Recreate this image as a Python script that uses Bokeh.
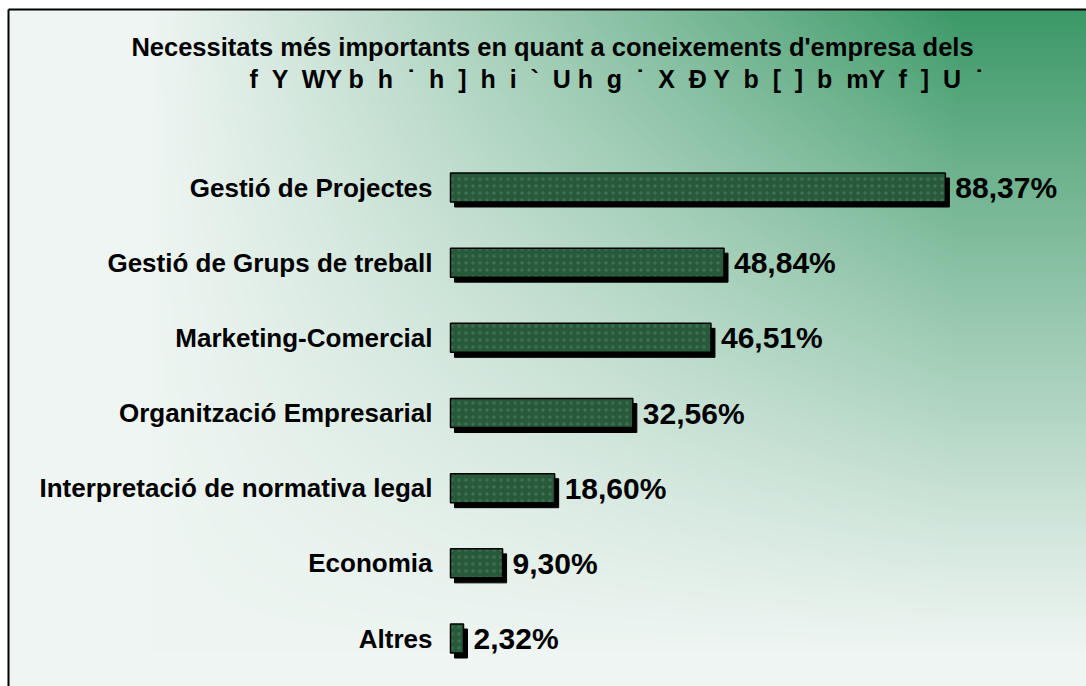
import numpy as np
from bokeh.plotting import figure
from bokeh.models import Range1d, ColumnDataSource, Label
from bokeh.core.properties import value
from bokeh.embed import file_html
from bokeh.resources import INLINE

# ---- data ----
categories = ["Gestió de Projectes", "Gestió de Grups de treball", "Marketing-Comercial",
              "Organització Empresarial", "Interpretació de normativa legal", "Economia", "Altres"]
values = [88.37, 48.84, 46.51, 32.56, 18.60, 9.30, 2.32]
value_labels = ["88,37%", "48,84%", "46,51%", "32,56%", "18,60%", "9,30%", "2,32%"]
title_line1 = "Necessitats més importants en quant a coneixements d'empresa dels"
S2 = " \u00a0"
S1 = " "
title_line2 = ("f" + S2 + "Y" + S2 + "WY" + S1 + "b" + S2 + "h" + S2 + "˙" + S2 + "h" + S2 + "]" + S2 +
               "h" + S2 + "i" + S2 + "`" + S2 + "U" + S1 + "h" + S2 + "g" + S2 + "˙" + S2 + "X" + S2 +
               "Đ" + S1 + "Y" + S2 + "b" + S2 + "[" + S2 + "]" + S2 + "b" + S2 + "mY" + S2 + "f" + S2 +
               "]" + S2 + "U" + S2 + "˙")

W, H = 1086, 686
PXX = 5.6          # pixels per percent
PXY = 75.17        # pixels per category step
x0 = -450 / PXX
x1 = x0 + W / PXX
n = len(categories)
y1 = (n - 1) + 187 / PXY
y0 = y1 - H / PXY

ypos = [n - 1 - i for i in range(n)]

p = figure(width=W, height=H, output_backend="svg", toolbar_location=None,
           x_range=Range1d(x0, x1), y_range=Range1d(y0, y1), min_border=0)
p.axis.visible = False
p.grid.visible = False
p.outline_line_color = None
p.background_fill_color = "white"
p.border_fill_color = "white"

# ---- background gradient (frame starts at page x=8, y=9) ----
xb = x0 + 8 / PXX
yb = y1 - 9 / PXY
fw, fh = W - 8, H - 9
gw, gh = fw // 2, fh // 2
xs = (np.arange(gw) + 0.5) * (fw / gw) + 8
ys = (np.arange(gh) + 0.5) * (fh / gh) + 9
X, Y = np.meshgrid(xs, ys)
th = np.clip((X - 150) / (960 - 150), 0, 1)
tv = np.clip(1 - (Y - 10) / 640, 0, 1)
g = (th ** 1.05) * (tv ** 1.1)
pale = np.array([238, 245, 242])
green = np.array([60, 153, 104])
col = pale[None, None, :] + (green - pale)[None, None, :] * g[..., None]
col = np.flipud(col).astype(np.uint32)
img = (np.uint32(255) << 24) | (col[..., 2] << 16) | (col[..., 1] << 8) | col[..., 0]
p.image_rgba(image=[img.astype(np.uint32)], x=xb, y=y0, dw=x1 - xb, dh=yb - y0)

# ---- border (top and left) ----
p.segment(x0=[xb, xb], y0=[y0, yb], x1=[xb, x1], y1=[yb, yb], line_color="black", line_width=2)

# ---- bars ----
dx = 4 / PXX
dy = 5 / PXY
bh = 29 / PXY
src = ColumnDataSource(dict(
    y=ypos, cat=categories, val=values, lab=value_labels,
    sy=[v - dy for v in ypos],
    sl=[dx] * n, sr=[v + dx for v in values],
))
p.hbar(y="sy", left="sl", right="sr", height=bh, source=src,
       fill_color="black", line_color="black")
p.hbar(y="y", left=0, right="val", height=bh, source=src,
       fill_color="#275a3b", line_color="black", line_width=1.5,
       hatch_pattern="dot", hatch_color="#6fa383", hatch_alpha=0.3,
       hatch_scale=7, hatch_weight=2)

# ---- texts ----
FONT = value("Liberation Sans")
p.text(x=0, y="y", text="cat", source=src, x_offset=-18,
       text_align="right", text_baseline="middle",
       text_font=FONT, text_font_style="bold",
       text_font_size="26px", text_color="black")
p.text(x="val", y="y", text="lab", source=src, x_offset=10,
       text_align="left", text_baseline="middle",
       text_font=FONT, text_font_style="bold",
       text_font_size="30px", text_color="black")

p.add_layout(Label(x=552, y=H - 46, x_units="screen", y_units="screen", text=title_line1,
                   text_align="center", text_baseline="middle",
                   text_font="Liberation Sans", text_font_style="bold",
                   text_font_size="25.5px", text_color="black"))
p.add_layout(Label(x=617, y=H - 78, x_units="screen", y_units="screen", text=title_line2,
                   text_align="center", text_baseline="middle",
                   text_font="Liberation Sans", text_font_style="bold",
                   text_font_size="25px", text_color="black"))

open("out.html", "w").write(file_html(p, INLINE))
